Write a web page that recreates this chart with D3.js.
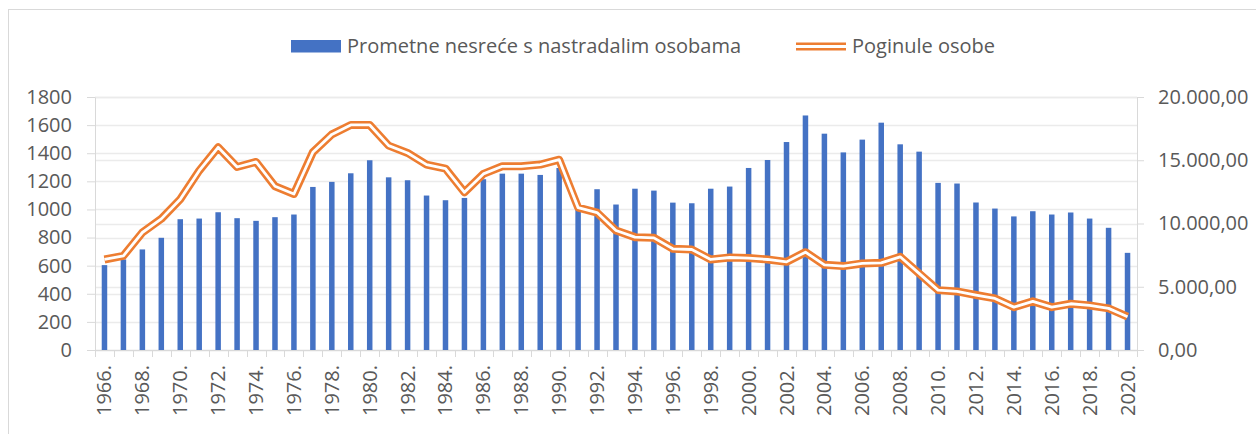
<!DOCTYPE html>
<html>
<head>
<meta charset="utf-8">
<script src="https://cdn.jsdelivr.net/npm/d3@7"></script>
<style>
  html, body { margin: 0; padding: 0; background: #fff; }
  svg { display: block; font-family: "Open Sans", sans-serif; }
</style>
</head>
<body>
<svg id="chart" width="1256" height="434"></svg>
<script>
// ---- data ----
const years = d3.range(1966, 2021).map(String);
const yearLabels = years.filter((y, i) => i % 2 === 0);
// Prometne nesreće s nastradalim osobama (right axis)
const accidents = [
  6710, 7160, 7950, 8870, 10340, 10390, 10890, 10420, 10210, 10500,
  10710, 12890, 13290, 13970, 15000, 13650, 13420, 12210, 11840, 12020,
  13500, 13940, 13940, 13840, 14390, 11500, 12710, 11500, 12750, 12600,
  11650, 11600, 12750, 12920, 14390, 15020, 16440, 18540, 17100, 15620,
  16630, 17970, 16260, 15680, 13210, 13160, 11660, 11180, 10560, 10970,
  10710, 10870, 10390, 9660, 7680
];
// Poginule osobe (left axis)
const killed = [
  644, 670, 836, 933, 1073, 1276, 1442, 1302, 1338, 1165,
  1110, 1407, 1534, 1601, 1601, 1454, 1402, 1319, 1291, 1122,
  1253, 1307, 1307, 1319, 1354, 1013, 978, 850, 803, 798,
  720, 715, 644, 658, 654, 644, 627, 696, 606, 597,
  616, 620, 663, 545, 426, 417, 391, 367, 305, 346,
  305, 329, 317, 296, 237
];
const leftTicks = d3.range(0, 1801, 200);
const rightTicks = d3.range(0, 20001, 5000);
const seriesNames = ["Prometne nesreće s nastradalim osobama", "Poginule osobe"];

// ---- layout ----
const svg = d3.select("#chart");
const X0 = 95, X1 = 1137, Y0 = 350, Y1 = 97;
const textColor = "#595959", axisColor = "#d9d9d9", gridColor = "#ebebeb";
const barColor = "#4472C4", lineColor = "#ED7D31";

const x = d3.scaleBand().domain(years).range([X0, X1]).paddingInner(0).paddingOuter(0);
const yL = d3.scaleLinear().domain([0, 1800]).range([Y0, Y1]);
const yR = d3.scaleLinear().domain([0, 20000]).range([Y0, Y1]);
const barW = 5.5;

const hr = d3.formatLocale({decimal: ",", thousands: ".", grouping: [3], currency: ["", ""]}).format(",.2f");

// chart border
svg.append("rect").attr("x", 8.5).attr("y", 9.5).attr("width", 1300).attr("height", 500)
  .attr("fill", "none").attr("stroke", axisColor);

// gridlines
const grid = svg.append("g");
grid.selectAll("line.gl").data(leftTicks).join("line")
  .attr("x1", X0).attr("x2", X1)
  .attr("y1", d => Math.round(yL(d)) + 0.5).attr("y2", d => Math.round(yL(d)) + 0.5)
  .attr("stroke", gridColor).attr("stroke-width", 1.3);
grid.selectAll("line.gr").data(rightTicks).join("line")
  .attr("x1", X0).attr("x2", X1)
  .attr("y1", d => Math.round(yR(d)) + 0.5).attr("y2", d => Math.round(yR(d)) + 0.5)
  .attr("stroke", gridColor).attr("stroke-width", 1.3);

// axes
function styleAxis(g, size) {
  g.selectAll(".domain").attr("stroke", axisColor);
  g.selectAll(".tick line").attr("stroke", axisColor);
  g.selectAll("text").attr("fill", textColor).style("font-size", size + "px")
    .style("font-family", '"Open Sans", sans-serif');
}
const gL = svg.append("g").attr("transform", `translate(${X0},0)`)
  .call(d3.axisLeft(yL).tickValues(leftTicks).tickSize(8).tickSizeOuter(0).tickPadding(15).tickFormat(d3.format("d")));
styleAxis(gL, 20);
const gR = svg.append("g").attr("transform", `translate(${X1},0)`)
  .call(d3.axisRight(yR).tickValues(rightTicks).tickSize(7).tickSizeOuter(0).tickPadding(14).tickFormat(hr));
styleAxis(gR, 20);

// bottom axis: ticks at category boundaries
const gB = svg.append("g").attr("transform", `translate(0,${Y0})`);
gB.append("line").attr("x1", X0).attr("x2", X1).attr("y1", 0.5).attr("y2", 0.5).attr("stroke", axisColor);
gB.selectAll("line.tk").data(years.concat(["end"])).join("line")
  .attr("x1", (d, i) => Math.round(X0 + i * x.bandwidth()) + 0.5)
  .attr("x2", (d, i) => Math.round(X0 + i * x.bandwidth()) + 0.5)
  .attr("y1", 0).attr("y2", 7).attr("stroke", axisColor);
gB.selectAll("text").data(yearLabels).join("text")
  .attr("transform", d => `translate(${x(d) + x.bandwidth() / 2},15) rotate(-90)`)
  .attr("text-anchor", "end").attr("dy", "0.35em")
  .attr("fill", textColor).style("font-size", "20px")
  .text(d => d + ".");

// bars
svg.append("g").selectAll("rect").data(accidents).join("rect")
  .attr("x", (d, i) => x(years[i]) + x.bandwidth() / 2 - barW / 2)
  .attr("width", barW)
  .attr("y", d => yR(d))
  .attr("height", d => Y0 - yR(d))
  .attr("fill", barColor);

// double line
const line = d3.line().x((d, i) => x(years[i]) + x.bandwidth() / 2).y(d => yL(d));
svg.append("path").datum(killed).attr("d", line).attr("fill", "none")
  .attr("stroke", lineColor).attr("stroke-width", 8).attr("stroke-linejoin", "round");
svg.append("path").datum(killed).attr("d", line).attr("fill", "none")
  .attr("stroke", "#fff").attr("stroke-width", 2.8).attr("stroke-linejoin", "round");

// legend
const lg = svg.append("g");
lg.append("rect").attr("x", 291).attr("y", 40).attr("width", 50).attr("height", 12.5).attr("fill", barColor);
lg.append("text").attr("x", 347).attr("y", 53).attr("fill", textColor).style("font-size", "20px").text(seriesNames[0]);
lg.append("line").attr("x1", 796).attr("x2", 846).attr("y1", 46.5).attr("y2", 46.5)
  .attr("stroke", lineColor).attr("stroke-width", 8);
lg.append("line").attr("x1", 796).attr("x2", 846).attr("y1", 46.5).attr("y2", 46.5)
  .attr("stroke", "#fff").attr("stroke-width", 2.8);
lg.append("text").attr("x", 852).attr("y", 53).attr("fill", textColor).style("font-size", "20px").text(seriesNames[1]);
</script>
</body>
</html>
